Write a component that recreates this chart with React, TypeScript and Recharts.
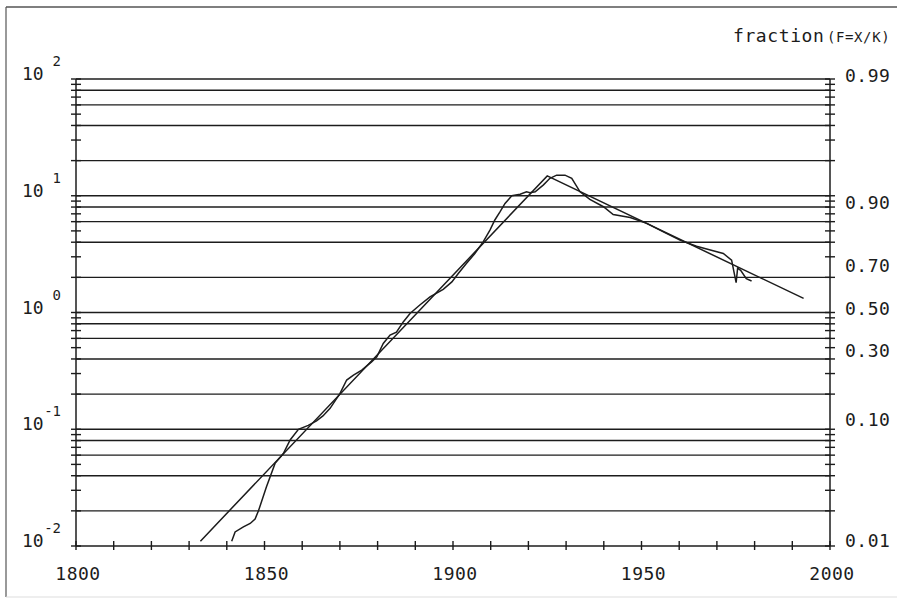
import React from 'react';
import { LineChart, Line, XAxis, YAxis, ReferenceLine } from 'recharts';

// observed data (wiggly curve)
const dataYears = [
  1841.3, 1842.2, 1844.4, 1846.2, 1847.5, 1848.4, 1850.5, 1852.8, 1855.0, 1856.8,
  1859.0, 1861.6, 1863.8, 1865.5, 1867.4, 1870.0, 1871.8, 1873.6, 1875.8, 1878.4,
  1879.8, 1881.5, 1883.3, 1885.0, 1886.8, 1888.6, 1891.2, 1893.9, 1897.4, 1899.7,
  1901.4, 1903.6, 1905.8, 1908.0, 1909.8, 1911.1, 1912.5, 1913.8, 1915.6, 1917.8,
  1919.5, 1920.4, 1921.8, 1924.0, 1925.7, 1927.5, 1929.7, 1931.5, 1933.7, 1936.3,
  1939.9, 1942.5, 1947.0, 1951.4, 1955.8, 1960.2, 1964.6, 1969.0, 1971.7, 1973.9,
  1975.1, 1975.5, 1976.3, 1977.8, 1979.2,
];
const dataValues = [
  0.011, 0.0132, 0.0146, 0.0156, 0.017, 0.02, 0.032, 0.051, 0.062, 0.081,
  0.1, 0.108, 0.118, 0.13, 0.151, 0.202, 0.264, 0.291, 0.321, 0.378,
  0.418, 0.543, 0.64, 0.68, 0.83, 0.98, 1.16, 1.36, 1.58, 1.83,
  2.16, 2.64, 3.2, 4.03, 5.08, 6.2, 7.3, 8.6, 10, 10.3,
  10.8, 10.6, 10.8, 12.4, 14.1, 15.0, 15.0, 14.1, 10.8, 9.3,
  8.05, 6.9, 6.5, 5.8, 4.9, 4.17, 3.7, 3.38, 3.2, 2.81,
  1.8, 2.4, 2.3, 1.95, 1.86,
];

// fitted logistic (straight lines on Fisher-Pry scale)
const fitYears = [1833, 1925, 1993];
const fitValues = [0.011, 14.8, 1.32];

// axes
const xTicks = [1800, 1810, 1820, 1830, 1840, 1850, 1860, 1870, 1880, 1890, 1900,
  1910, 1920, 1930, 1940, 1950, 1960, 1970, 1980, 1990, 2000];
const xLabelYears = [1800, 1850, 1900, 1950, 2000];
const decadeExponents = [-2, -1, 0, 1, 2];
const minorMultipliers = [1, 2, 3, 4, 5, 6, 7, 8, 9];
const gridMultipliers = [1, 2, 4, 6, 8];
const fractionLabels = ['0.99', '0.90', '0.70', '0.50', '0.30', '0.10', '0.01'];
const titleMain = 'fraction';
const titleSub = '(F=X/K)';

const round = (v: number) => Number(v.toPrecision(8));
const decadeValues = decadeExponents.map((e) => round(Math.pow(10, e)));
const lowerDecades = decadeExponents.slice(0, -1);
const minorTicks = [
  ...lowerDecades.flatMap((e) => minorMultipliers.map((m) => round(m * Math.pow(10, e)))),
  round(Math.pow(10, decadeExponents[decadeExponents.length - 1])),
];
const gridValues = [
  ...lowerDecades.flatMap((e) => gridMultipliers.map((m) => round(m * Math.pow(10, e)))),
  round(Math.pow(10, decadeExponents[decadeExponents.length - 1])),
].filter((v) => v > decadeValues[0]);
const fractionPositions = fractionLabels.map((s) => {
  const f = parseFloat(s);
  return f / (1 - f);
});
const near = (a: number, b: number) => Math.abs(a - b) / b < 1e-6;
const rightTicks = [
  ...minorTicks,
  ...fractionPositions.filter((p) => !minorTicks.some((m) => near(m, p))),
].sort((a, b) => a - b);

const dataSeries = dataYears.map((year, i) => ({ year, v: dataValues[i] }));
const fitSeries = fitYears.map((year, i) => ({ year, v: fitValues[i] }));

const INK = '#1c1c1c';
const FONT = '"DejaVu Sans Mono", "Liberation Mono", monospace';

const LeftTick = (props: any) => {
  const { x, y, payload } = props;
  const v = payload.value;
  const di = decadeValues.findIndex((d) => near(v, d));
  const isMinor = minorTicks.some((m) => near(m, v));
  return (
    <g>
      {isMinor && <line x1={x - 5} x2={x + 5} y1={y} y2={y} stroke={INK} strokeWidth={1.4} />}
      {di >= 0 && (
        <text x={x - 54} y={y + 1} fontSize={18} fontFamily={FONT} fill={INK}>
          10
        </text>
      )}
      {di >= 0 && (
        <text x={x - 15} y={y - 13} fontSize={14} fontFamily={FONT} fill={INK} textAnchor="end">
          {String(decadeExponents[di])}
        </text>
      )}
    </g>
  );
};

const labelNudge: Record<string, number> = { '0.90': 6 };

const RightTick = (props: any) => {
  const { x, y, payload } = props;
  const v = payload.value;
  const isMinor = minorTicks.some((m) => near(m, v));
  const li = fractionPositions.findIndex((p) => near(v, p));
  const label = li >= 0 ? fractionLabels[li] : null;
  return (
    <g>
      {isMinor && <line x1={x - 5} x2={x + 5} y1={y} y2={y} stroke={INK} strokeWidth={1.4} />}
      {label && (
        <text x={x + 15} y={y + 2 + (labelNudge[label] || 0)} fontSize={18} fontFamily={FONT} fill={INK} letterSpacing={0.5}>
          {label}
        </text>
      )}
    </g>
  );
};

const BottomTick = (props: any) => {
  const { x, y, payload } = props;
  const v = payload.value;
  const showLabel = xLabelYears.includes(v);
  return (
    <g>
      <line x1={x} x2={x} y1={y - 5} y2={y + 4} stroke={INK} strokeWidth={1.4} />
      {showLabel && (
        <text x={x + 2} y={y + 34} fontSize={18} fontFamily={FONT} fill={INK} textAnchor="middle" letterSpacing={0.5}>
          {String(v)}
        </text>
      )}
    </g>
  );
};

export default function App() {
  return (
    <div style={{ position: 'absolute', left: 0, top: 0, width: 897, height: 600, background: '#fff' }}>
      <LineChart width={897} height={600} margin={{ top: 79, right: 0, bottom: 0, left: 0 }}>
        <XAxis
          dataKey="year"
          type="number"
          domain={[1800, 2000]}
          ticks={xTicks}
          interval={0}
          height={54}
          tickSize={0}
          tickMargin={0}
          tickLine={false}
          axisLine={{ stroke: INK, strokeWidth: 1.5 }}
          tick={<BottomTick />}
          allowDataOverflow
        />
        <YAxis
          yAxisId="left"
          scale="log"
          domain={[0.01, 100]}
          ticks={minorTicks}
          interval={0}
          width={76}
          tickSize={0}
          tickMargin={0}
          tickLine={false}
          axisLine={{ stroke: INK, strokeWidth: 1.5 }}
          tick={<LeftTick />}
          allowDataOverflow
        />
        <YAxis
          yAxisId="right"
          orientation="right"
          scale="log"
          domain={[0.01, 100]}
          ticks={rightTicks}
          interval={0}
          width={67}
          tickSize={0}
          tickMargin={0}
          tickLine={false}
          axisLine={{ stroke: INK, strokeWidth: 1.5 }}
          tick={<RightTick />}
          allowDataOverflow
        />
        {gridValues.map((g) => (
          <ReferenceLine key={g} yAxisId="left" y={g} stroke={INK} strokeWidth={1.4} ifOverflow="extendDomain" />
        ))}
        <Line
          yAxisId="left"
          data={fitSeries}
          dataKey="v"
          type="linear"
          dot={false}
          stroke={INK}
          strokeWidth={1.5}
          isAnimationActive={false}
        />
        <Line
          yAxisId="left"
          data={dataSeries}
          dataKey="v"
          type="linear"
          dot={false}
          stroke={INK}
          strokeWidth={1.5}
          isAnimationActive={false}
        />
      </LineChart>
      <svg width={897} height={600} style={{ position: 'absolute', left: 0, top: 0, pointerEvents: 'none' }}>
        <line x1={6} x2={6} y1={7} y2={597} stroke="#777" strokeWidth={1.5} />
        <line x1={6} x2={897} y1={7} y2={7} stroke="#555" strokeWidth={1.5} />
        <line x1={6} x2={897} y1={597} y2={597} stroke="#ddd" strokeWidth={1} />
        <text x={733} y={42} fontSize={18} fontFamily={FONT} fill={INK} letterSpacing={0.6}>
          {titleMain}
        </text>
        <text x={827} y={42} fontSize={14} fontFamily={FONT} fill={INK} letterSpacing={0.6}>
          {titleSub}
        </text>
      </svg>
    </div>
  );
}
